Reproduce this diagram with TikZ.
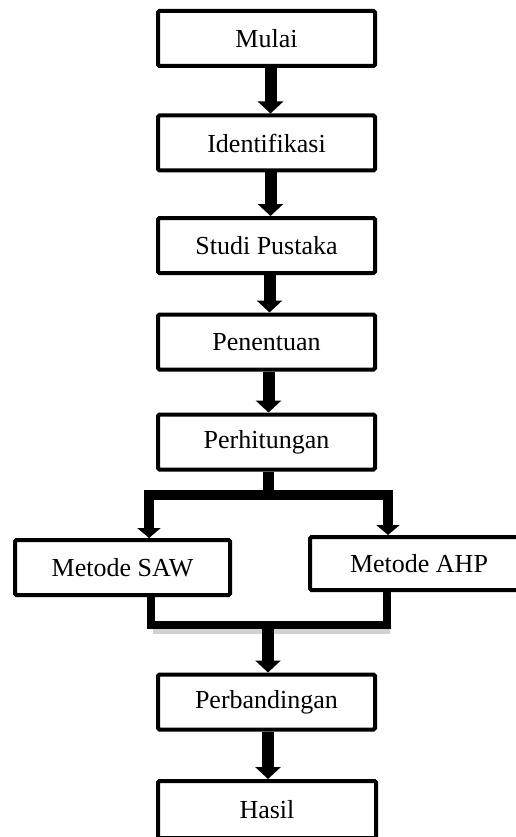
\documentclass[tikz,border=0pt]{standalone}
\usepackage{fontspec}
\setmainfont{Liberation Serif}
\usetikzlibrary{arrows.meta}
\tikzset{
  box/.style={draw=black, line width=4pt, rounded corners=1.5pt, fill=white,
    minimum width=217pt, minimum height=55pt, inner sep=0pt,
    font=\fontsize{26}{30}\selectfont},
  mainarrow/.style={line width=12pt, -{Triangle[width=25pt,length=12pt]}},
  brancharrow/.style={line width=10pt, line join=miter,
    {Triangle[width=23pt,length=10pt]}-{Triangle[width=23pt,length=10pt]}},
  mergeline/.style={line width=8pt, line join=miter},
  stem/.style={line width=11pt},
  shadowline/.style={line width=10pt, draw=black!30, opacity=0.6}
}
\begin{document}
\begin{tikzpicture}[x=1pt,y=-1pt]
\useasboundingbox (0,0) rectangle (515,837);

\node[box] (mulai) at (266.5,38.5) {Mulai};
\node[box] (ident) at (266.5,143) {Identifikasi};
\node[box] (studi) at (266.5,245.5) {Studi Pustaka};
\node[box] (tentu) at (266.5,342) {Penentuan};
\node[box, minimum width=217pt] (hitung) at (266.5,442) {Perhitungan};
\node[box, minimum width=215pt] (saw) at (122.5,567.5) {Metode SAW};
\node[box, minimum width=218pt, minimum height=53pt] (ahp) at (419,563.5) {Metode AHP};
\node[box] (banding) at (266.5,702) {Perbandingan};
\node[box, minimum width=218pt, minimum height=57pt] (hasil) at (267,809.5) {Hasil};

% main sequence arrows
\draw[mainarrow] ([xshift=4pt]mulai.south) -- ([xshift=4pt]ident.north);
\draw[mainarrow] ([xshift=4pt]ident.south) -- ([xshift=4pt]studi.north);
\draw[mainarrow] ([xshift=3pt]studi.south) -- ([xshift=3pt]tentu.north);
\draw[mainarrow] ([xshift=2pt]tentu.south) -- ([xshift=2pt]hitung.north);

% split
\coordinate (split) at (268,495);
\coordinate (bl) at (149,495);
\coordinate (br) at (388,495);
\draw[stem] (hitung.south -| split) -- (split);
\draw[brancharrow] (saw.north -| bl) -- (bl) -- (br) -- (ahp.north -| br);

% merge
\coordinate (ml) at (151,625);
\coordinate (mr) at (387,625);
\coordinate (join) at (268,625);
\draw[shadowline] (153,629) -- (390,629);
\draw[mergeline] (saw.south -| ml) -- (ml) -- (mr) -- (ahp.south -| mr);
\draw[mainarrow] (join) -- (banding.north -| join);
\draw[mainarrow] (banding.south -| join) -- (hasil.north -| join);
\end{tikzpicture}
\end{document}
